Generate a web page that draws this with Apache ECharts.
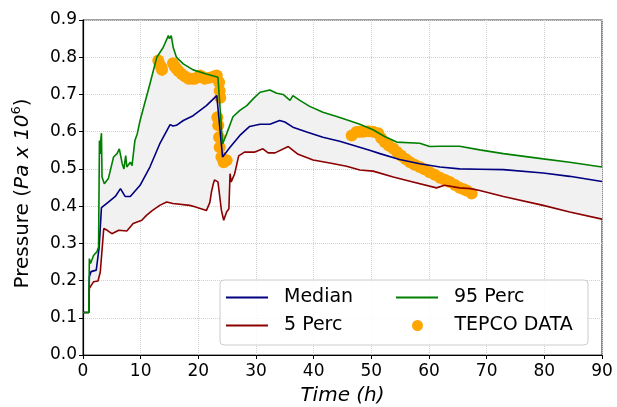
<!DOCTYPE html>
<html>
  <head>
    <meta charset="UTF-8">
    <title></title>
    <script src="https://cdn.jsdelivr.net/npm/echarts@6/dist/echarts.min.js"></script>
    <style type="text/css">
      * {margin: 0; padding: 0;}
      body {background: #fff;}
    </style>
  </head>
  <body>
    <div id="chart" style="width:617px;height:407px"></div>

    <script type="text/javascript">
      // 95 Perc
      var time95 = [0, 1.0, 1.1, 1.3, 1.85, 2.4, 2.7, 2.85, 3.0, 3.1, 3.2, 3.3, 3.7, 4.4, 5.3, 5.9, 6.3, 6.8, 7.1, 7.4,
                    7.6, 8.2, 8.5, 9.0, 9.4, 9.9, 11.6, 12.8, 13.9, 14.8, 15.0, 15.3, 15.65, 16.2, 17.4, 19.1, 21.4, 23.4, 24.2, 24.9,
                    26.0, 27.2, 28.4, 29.5, 30.7, 32.4, 33.6, 34.7, 35.9, 36.4, 37.6, 39.3, 41.6, 44.0, 45.7, 48.0, 50.3, 52.3, 54.4, 58.4,
                    60.1, 61.8, 65.3, 68.8, 72.9, 79.8, 84.4, 90];
      var perc95 = [0.114, 0.114, 0.259, 0.246, 0.268, 0.277, 0.29, 0.576, 0.54, 0.58, 0.596, 0.478, 0.46, 0.474, 0.532, 0.541, 0.554, 0.514, 0.50, 0.536,
                    0.505, 0.518, 0.509, 0.576, 0.594, 0.63, 0.728, 0.80, 0.826, 0.858, 0.85, 0.858, 0.826, 0.80, 0.782, 0.766, 0.755, 0.746, 0.567, 0.594,
                    0.64, 0.657, 0.67, 0.688, 0.706, 0.712, 0.703, 0.70, 0.684, 0.697, 0.684, 0.668, 0.652, 0.641, 0.632, 0.62, 0.605, 0.587, 0.572, 0.569,
                    0.56, 0.561, 0.561, 0.551, 0.541, 0.527, 0.518, 0.505];

      // Median
      var timeMed = [0, 1.0, 1.1, 1.4, 2.3, 2.8, 3.2, 4.4, 5.6, 6.5, 7.3, 8.2, 9.9, 11.6, 13.3, 15.1, 15.6, 16.2, 17.4, 19.1,
                     21.4, 23.2, 23.4, 24.2, 25.5, 27.2, 28.9, 30.7, 32.4, 34.1, 35.0, 36.4, 38.8, 41.6, 44.5, 47.4, 49.7, 51.5, 54.9, 58.4,
                     61.9, 65.3, 68.8, 72.9, 79.8, 84.4, 90];
      var median = [0.114, 0.114, 0.21, 0.224, 0.228, 0.29, 0.396, 0.411, 0.426, 0.447, 0.426, 0.426, 0.456, 0.505, 0.567, 0.619, 0.615, 0.617, 0.63, 0.643,
                    0.67, 0.697, 0.693, 0.532, 0.558, 0.59, 0.614, 0.62, 0.62, 0.63, 0.626, 0.612, 0.599, 0.585, 0.574, 0.561, 0.55, 0.541, 0.525, 0.514,
                    0.505, 0.50, 0.499, 0.498, 0.489, 0.48, 0.466];

      // 5 Perc
      var time5 = [0, 1.0, 1.1, 1.85, 2.6, 3.0, 3.6, 4.2, 5.0, 6.2, 7.6, 8.7, 10.2, 11.0, 12.0, 13.3, 14.5, 15.6, 18.5, 19.4,
                   21.4, 22.0, 22.3, 22.6, 22.8, 23.4, 23.6, 24.0, 24.4, 24.9, 25.3, 25.5, 25.7, 26.3, 27.0, 28.0, 29.7, 31.2, 32.1, 33.3,
                   35.6, 37.3, 39.9, 42.8, 45.7, 48.0, 50.3, 53.8, 57.2, 61.3, 62.7, 65.3, 67.2, 68.8, 72.9, 79.8, 84.4, 90];
      var perc5 = [0.114, 0.114, 0.179, 0.197, 0.199, 0.223, 0.34, 0.335, 0.326, 0.335, 0.333, 0.353, 0.362, 0.375, 0.388, 0.402, 0.411, 0.407, 0.402, 0.398,
                   0.388, 0.41, 0.44, 0.46, 0.47, 0.465, 0.44, 0.389, 0.362, 0.384, 0.393, 0.487, 0.465, 0.487, 0.535, 0.545, 0.545, 0.554, 0.543, 0.543,
                   0.56, 0.539, 0.524, 0.516, 0.507, 0.497, 0.494, 0.478, 0.465, 0.449, 0.456, 0.449, 0.447, 0.442, 0.426, 0.402, 0.384, 0.365];

      // TEPCO DATA
      var tepcoTime = [13.05, 13.3, 13.6, 13.7, 15.6, 15.9, 16.2, 16.6, 17.1, 17.7, 18.3, 18.9, 19.4, 19.9, 20.3, 20.7, 21.1, 21.7, 22.3, 22.8,
                       23.2, 23.6, 23.7, 23.8, 23.3, 23.45, 23.6, 23.7, 24.0, 24.4, 24.9,
                       46.6, 47.4, 48.0, 48.6, 49.5, 50.3, 51.2, 51.7, 52.3, 53.0, 53.8, 54.5, 55.2, 56.0, 56.7, 57.5, 58.4, 59.2, 60.1,
                       61.0, 61.9, 62.8, 63.6, 64.5, 65.3, 66.0, 66.5, 67.4];
      var tepcoP = [0.791, 0.78, 0.773, 0.766, 0.784, 0.775, 0.769, 0.762, 0.755, 0.748, 0.742, 0.742, 0.742, 0.746, 0.751, 0.746, 0.742, 0.744, 0.746, 0.749,
                    0.751, 0.733, 0.71, 0.691, 0.639, 0.617, 0.585, 0.558, 0.532, 0.518, 0.523,
                    0.59, 0.599, 0.60, 0.60, 0.601, 0.60, 0.596, 0.583, 0.572, 0.563, 0.555, 0.545, 0.535, 0.526, 0.518, 0.511, 0.505, 0.499, 0.491,
                    0.484, 0.476, 0.47, 0.465, 0.457, 0.449, 0.445, 0.442, 0.434];

      function pairs(xs, ys) {
        var res = [];
        for (var i = 0; i < xs.length; i++) {
          res.push([xs[i], ys[i]]);
        }
        return res;
      }

      var font = 'DejaVu Sans';
      var chart = echarts.init(document.getElementById('chart'));

      // one small legend per entry so the two columns line up like the original
      function legendAt(name, icon, h, left, top) {
        return {
          data: [{name: name, icon: icon}],
          left: left,
          top: top,
          orient: 'vertical',
          itemWidth: 42,
          itemHeight: h,
          padding: 0,
          textStyle: {fontFamily: font, fontSize: 19, color: '#000', padding: [0, 0, 0, 11]}
        };
      }

      var option = {
        animation: false,
        backgroundColor: '#fff',
        grid: {left: 83, right: 15, top: 20, bottom: 52, outerBoundsMode: 'none', show: true, borderColor: '#444', borderWidth: 1.2},
        graphic: [{
          type: 'rect',
          z: 3,
          shape: {x: 220, y: 280, width: 368, height: 65, r: 4},
          style: {fill: 'rgba(255,255,255,0.85)', stroke: '#cccccc', lineWidth: 1}
        }],
        legend: [
          legendAt('Median', 'rect', 2, 226, 288),
          legendAt('5 Perc', 'rect', 2, 226, 316),
          legendAt('95 Perc', 'rect', 2, 396, 288),
          legendAt('TEPCO DATA', 'circle', 11, 412, 316)
        ],
        xAxis: {
          type: 'value',
          min: 0,
          max: 90,
          interval: 10,
          name: 'Time (h)',
          nameLocation: 'middle',
          nameGap: 31,
          nameTextStyle: {fontFamily: font, fontSize: 20, fontStyle: 'italic', color: '#000'},
          axisLine: {onZero: false, lineStyle: {color: '#000', width: 1.2}},
          axisTick: {show: true, length: 4, lineStyle: {color: '#000'}},
          axisLabel: {fontFamily: font, fontSize: 17, color: '#000', margin: 8},
          splitLine: {show: true, lineStyle: {color: '#cfcfcf', type: 'dotted', width: 1}}
        },
        yAxis: {
          type: 'value',
          min: 0,
          max: 0.9,
          interval: 0.1,
          name: '{n|Pressure (}{i|Pa x 10}{s|6}{n|)}',
          nameLocation: 'middle',
          nameGap: 48,
          nameTextStyle: {
            fontFamily: font, fontSize: 20, color: '#000', padding: [0, 12, 0, 0],
            rich: {
              n: {fontFamily: font, fontSize: 20, color: '#000'},
              i: {fontFamily: font, fontSize: 20, fontStyle: 'italic', color: '#000'},
              s: {fontFamily: font, fontSize: 13, color: '#000', padding: [0, 0, 12, 0]}
            }
          },
          axisLine: {show: true, onZero: false, lineStyle: {color: '#000', width: 1.2}},
          axisTick: {show: true, length: 4, lineStyle: {color: '#000'}},
          axisLabel: {
            fontFamily: font, fontSize: 17, color: '#000', margin: 6,
            formatter: function (v) { return v.toFixed(1); }
          },
          splitLine: {show: true, lineStyle: {color: '#cfcfcf', type: 'dotted', width: 1}}
        },
        series: [
          {
            type: 'custom',
            z: 1,
            silent: true,
            data: [[0, 0]],
            renderItem: function (params, api) {
              var pts = [];
              for (var i = 0; i < time95.length; i++) {
                pts.push(api.coord([time95[i], perc95[i]]));
              }
              for (var j = time5.length - 1; j >= 0; j--) {
                pts.push(api.coord([time5[j], perc5[j]]));
              }
              return {type: 'polygon', shape: {points: pts}, style: {fill: '#f1f1f1'}};
            }
          },
          {
            name: 'TEPCO DATA',
            type: 'scatter',
            z: 2,
            symbolSize: 12,
            itemStyle: {color: '#FFA500', opacity: 1},
            data: pairs(tepcoTime, tepcoP)
          },
          {
            name: 'Median',
            type: 'line',
            z: 3,
            symbol: 'none',
            lineStyle: {color: '#000080', width: 1.6},
            itemStyle: {color: '#000080'},
            data: pairs(timeMed, median)
          },
          {
            name: '5 Perc',
            type: 'line',
            z: 3,
            symbol: 'none',
            lineStyle: {color: '#8B0000', width: 1.6},
            itemStyle: {color: '#8B0000'},
            data: pairs(time5, perc5)
          },
          {
            name: '95 Perc',
            type: 'line',
            z: 3,
            symbol: 'none',
            lineStyle: {color: '#008000', width: 1.6},
            itemStyle: {color: '#008000'},
            data: pairs(time95, perc95)
          }
        ]
      };

      chart.setOption(option);
    </script>
  </body>
</html>
